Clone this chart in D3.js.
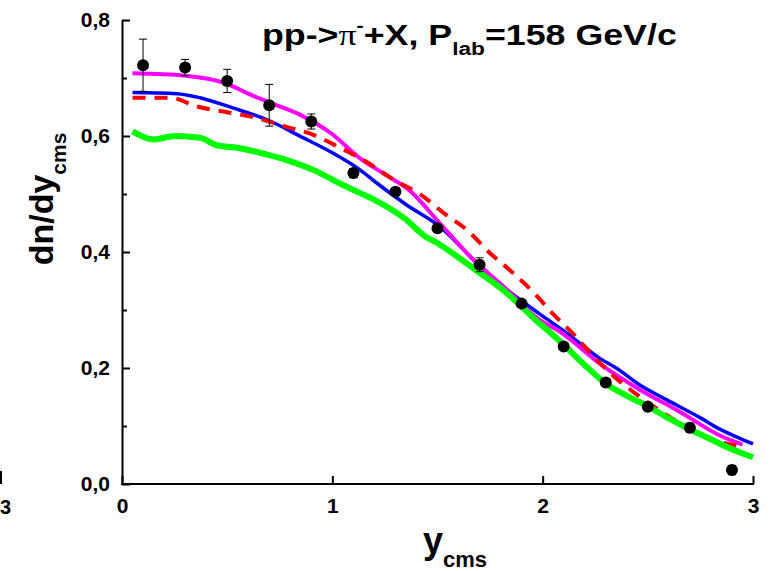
<!DOCTYPE html>
<html>
<head>
<meta charset="utf-8">
<style>
  body { margin: 0; background: #fff; }
  svg text { font-family: "Liberation Sans", Arial, sans-serif; font-weight: bold; fill: #000; }
  .axis path, .axis line { stroke: #000; stroke-width: 2px; }
</style>
</head>
<body>
<svg width="778" height="571"></svg>
<script src="https://d3js.org/d3.v7.min.js"></script>
<script>

// experimental points : rapidity, dn/dy, error
var rapidity = [0.1, 0.3, 0.5, 0.7, 0.9, 1.1, 1.3, 1.5, 1.7, 1.9, 2.1, 2.3, 2.5, 2.7, 2.9];
var dndy     = [0.722, 0.718, 0.695, 0.653, 0.625, 0.536, 0.504, 0.441, 0.378, 0.311, 0.237, 0.175, 0.133, 0.097, 0.024];
var dndyErr  = [0.045, 0.014, 0.020, 0.036, 0.013, 0.008, 0.006, 0.006, 0.012, 0.006, 0.006, 0.007, 0.006, 0.008, 0.008];

// model curves
var magentaX = [0.05, 0.3, 0.5, 0.6, 0.7, 0.85, 1.0, 1.13, 1.24, 1.37, 1.51, 1.67, 1.83, 1.96, 2.1, 2.27, 2.46, 2.65, 2.84, 2.95];
var magentaY = [0.708, 0.704, 0.690, 0.673, 0.658, 0.636, 0.603, 0.562, 0.536, 0.505, 0.450, 0.387, 0.335, 0.290, 0.258, 0.208, 0.163, 0.125, 0.084, 0.068];

var blueX = [0.05, 0.26, 0.37, 0.53, 0.69, 0.85, 1.0, 1.13, 1.2, 1.35, 1.51, 1.67, 1.83, 1.99, 2.1, 2.2, 2.27, 2.35, 2.46, 2.59, 2.75, 2.84, 2.91, 3.0];
var blueY = [0.675, 0.673, 0.666, 0.648, 0.628, 0.599, 0.571, 0.542, 0.522, 0.482, 0.444, 0.387, 0.335, 0.292, 0.264, 0.236, 0.217, 0.200, 0.171, 0.145, 0.114, 0.095, 0.083, 0.069];

var redX = [0.05, 0.23, 0.355, 0.5, 0.64, 0.77, 0.91, 1.04, 1.16, 1.29, 1.42, 1.53, 1.64, 1.75, 1.84, 1.96, 2.05, 2.15, 2.25, 2.35, 2.46, 2.58, 2.83, 2.95];
var redY = [0.666, 0.666, 0.651, 0.641, 0.631, 0.617, 0.602, 0.579, 0.556, 0.525, 0.499, 0.467, 0.438, 0.398, 0.370, 0.329, 0.293, 0.257, 0.217, 0.182, 0.151, 0.121, 0.074, 0.064];

var greenX = [0.05, 0.15, 0.25, 0.37, 0.45, 0.56, 0.69, 0.78, 0.925, 1.036, 1.13, 1.2, 1.35, 1.43, 1.51, 1.67, 1.83, 1.89, 1.96, 2.04, 2.1, 2.2, 2.3, 2.4, 2.5, 2.6, 2.7, 2.8, 2.9, 3.0];
var greenY = [0.608, 0.594, 0.600, 0.597, 0.584, 0.579, 0.568, 0.559, 0.539, 0.518, 0.502, 0.490, 0.456, 0.430, 0.413, 0.372, 0.329, 0.309, 0.285, 0.260, 0.240, 0.205, 0.173, 0.152, 0.134, 0.113, 0.094, 0.077, 0.060, 0.046];

var xTicks = [0, 1, 2, 3];
var xTickLabels = ["0", "1", "2", "3"];
var yTicks = [0, 0.2, 0.4, 0.6, 0.8];
var yTickLabels = ["0,0", "0,2", "0,4", "0,6", "0,8"];
var yMinorTicks = [0.1, 0.3, 0.5, 0.7];

var svg = d3.select("svg");

var x = d3.scaleLinear().domain([0, 3]).range([122, 753]);
var y = d3.scaleLinear().domain([0, 0.8]).range([484, 20]);

// minor ticks on y (inside)
svg.append("g")
  .attr("class", "axis")
  .attr("transform", "translate(" + x(0) + ",0)")
  .call(d3.axisLeft(y).tickValues(yMinorTicks).tickSize(-5).tickSizeOuter(0).tickFormat(""))
  .select(".domain").remove();

// y axis
var gy = svg.append("g")
  .attr("class", "axis")
  .attr("transform", "translate(" + x(0) + ",0)")
  .call(d3.axisLeft(y).tickValues(yTicks).tickSize(-8).tickSizeOuter(0).tickPadding(12)
    .tickFormat(function (d, i) { return yTickLabels[i]; }));
gy.selectAll("text").style("font-size", "21px");

// x axis
var gx = svg.append("g")
  .attr("class", "axis")
  .attr("transform", "translate(0," + y(0) + ")")
  .call(d3.axisBottom(x).tickValues(xTicks).tickSize(-8).tickSizeOuter(0).tickPadding(14)
    .tickFormat(function (d, i) { return xTickLabels[i]; }));
gx.selectAll("text").style("font-size", "21px");
gx.select(".domain").attr("d", "M" + (x(0) - 1) + ",0H" + (x(3) + 1));

// curves
function drawCurve(xs, ys, color, width, dash) {
  var pts = xs.map(function (d, i) { return [d, ys[i]]; });
  var line = d3.line()
    .x(function (d) { return x(d[0]); })
    .y(function (d) { return y(d[1]); })
    .curve(d3.curveMonotoneX);
  svg.append("path")
    .datum(pts)
    .attr("d", line)
    .attr("fill", "none")
    .attr("stroke", color)
    .attr("stroke-width", width)
    .attr("stroke-linejoin", "round")
    .attr("stroke-dasharray", dash || null);
}
drawCurve(blueX, blueY, "#0000ff", 3.5);
drawCurve(magentaX, magentaY, "#ff00ff", 4);
drawCurve(redX, redY, "#ff0000", 4, "13,9");
drawCurve(greenX, greenY, "#00ff00", 6);

// error bars and points
var pts = rapidity.map(function (d, i) { return { x: d, v: dndy[i], e: dndyErr[i] }; });
var eb = svg.append("g").attr("stroke", "#000").attr("stroke-width", 1);
eb.selectAll(".bar").data(pts).enter().append("line")
  .attr("x1", function (d) { return x(d.x); })
  .attr("x2", function (d) { return x(d.x); })
  .attr("y1", function (d) { return y(d.v - d.e); })
  .attr("y2", function (d) { return y(d.v + d.e); });
eb.selectAll(".capt").data(pts).enter().append("line")
  .attr("x1", function (d) { return x(d.x) - 4; })
  .attr("x2", function (d) { return x(d.x) + 4; })
  .attr("y1", function (d) { return y(d.v + d.e); })
  .attr("y2", function (d) { return y(d.v + d.e); });
eb.selectAll(".capb").data(pts).enter().append("line")
  .attr("x1", function (d) { return x(d.x) - 4; })
  .attr("x2", function (d) { return x(d.x) + 4; })
  .attr("y1", function (d) { return y(d.v - d.e); })
  .attr("y2", function (d) { return y(d.v - d.e); });
svg.append("g").selectAll("circle").data(pts).enter().append("circle")
  .attr("cx", function (d) { return x(d.x); })
  .attr("cy", function (d) { return y(d.v); })
  .attr("r", 6)
  .attr("fill", "#000");

// title
var title = svg.append("text").style("font-size", "30px");
title.append("tspan").text("pp->");
title.append("tspan").style("font-family", "'Liberation Serif', serif").style("font-weight", "normal").text("π");
title.append("tspan").style("font-size", "18px").attr("dy", -13).text("-");
title.append("tspan").attr("dy", 13).text("+X, P");
title.append("tspan").style("font-size", "19px").attr("dy", 10).text("lab");
title.append("tspan").attr("dy", -10).text("=158 GeV/c");
var tw = title.node().getBBox().width;
title.attr("transform", "translate(262,45) scale(" + (415 / tw) + ",1)");

// y label
var ylab = svg.append("text")
  .attr("transform", "translate(53,199) rotate(-90)")
  .attr("text-anchor", "middle");
ylab.append("tspan").style("font-size", "34px").text("dn/dy");
ylab.append("tspan").style("font-size", "21px").attr("dy", 13).text("cms");

// x label
var xlab = svg.append("text").attr("x", 423).attr("y", 553);
xlab.append("tspan").style("font-size", "36px").text("y");
xlab.append("tspan").style("font-size", "22px").attr("dy", 14).text("cms");

// piece of the neighbouring panel at the left edge
svg.append("text").attr("x", 0).attr("y", 514).style("font-size", "20px").text("3");
svg.append("line").attr("x1", 1).attr("x2", 1).attr("y1", 471).attr("y2", 484).attr("stroke", "#000").attr("stroke-width", 2);

</script>
</body>
</html>
